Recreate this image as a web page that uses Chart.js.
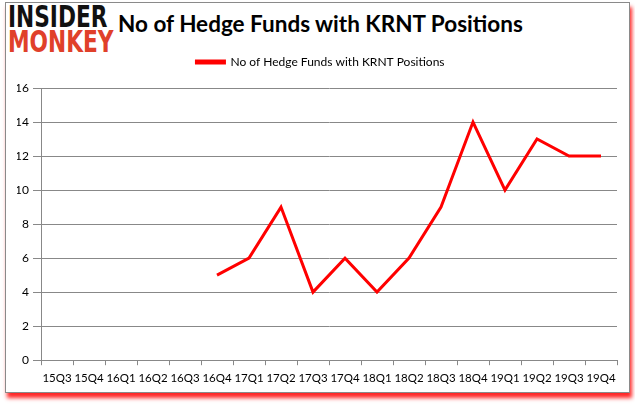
<!DOCTYPE html>
<html><head><meta charset="utf-8">
<script src="https://cdn.jsdelivr.net/npm/chart.js@4/dist/chart.umd.min.js"></script>
<style>
html,body{margin:0;padding:0;background:#fff;width:635px;height:405px;overflow:hidden;}
#frame{position:absolute;left:5px;top:2px;width:623px;height:389px;border:1px solid #8a8a8a;box-shadow:2px 5px 4px rgba(255,0,0,0.85);background:#fff;}
#logo{position:absolute;left:8px;top:4px;font-family:"DejaVu Sans";font-weight:bold;font-size:31px;line-height:25px;}
#logo div{transform-origin:0 0;white-space:nowrap;}
#l1{color:#111;transform:scaleX(0.7);}
#l2{color:#e0402a;transform:scaleX(0.7);}
#title{position:absolute;left:118px;top:10px;font-family:Lato,"Open Sans",sans-serif;font-weight:bold;font-size:22.5px;color:#000;white-space:nowrap;}
canvas{position:absolute;left:0;top:0;}
</style></head>
<body>
<div id="frame"></div>
<div id="logo"><div id="l1">INSIDER</div><div id="l2">MONKEY</div></div>
<div id="title">No of Hedge Funds with KRNT Positions</div>
<canvas id="c" width="635" height="405"></canvas>
<script>
const categories = ["15Q3","15Q4","16Q1","16Q2","16Q3","16Q4","17Q1","17Q2","17Q3","17Q4","18Q1","18Q2","18Q3","18Q4","19Q1","19Q2","19Q3","19Q4"];
const fundCounts = [null,null,null,null,null,5,6,9,4,6,4,6,9,14,10,13,12,12];
const yTicks = [0,2,4,6,8,10,12,14,16];
const seriesName = "No of Hedge Funds with KRNT Positions";

const legendMargin = {
  id: 'legendMargin',
  beforeInit(chart) {
    const orig = chart.legend.fit;
    chart.legend.fit = function () { orig.bind(chart.legend)(); this.height += 10; };
  }
};

new Chart(document.getElementById('c'), {
  type: 'line',
  data: {
    labels: categories,
    datasets: [{
      label: seriesName,
      data: fundCounts,
      borderColor: '#ff0000',
      backgroundColor: '#ff0000',
      borderWidth: 3,
      pointRadius: 0,
      tension: 0,
      spanGaps: false
    }]
  },
  plugins: [legendMargin],
  options: {
    responsive: false,
    animation: false,
    layout: { padding: { left: 17, right: 11, top: 44, bottom: 14 } },
    plugins: {
      legend: {
        display: true,
        labels: {
          boxWidth: 28, boxHeight: 2,
          color: '#000',
          font: { family: 'Lato, "Open Sans", sans-serif', size: 12 },
          padding: 12
        }
      },
      tooltip: { enabled: false }
    },
    scales: {
      x: {
        offset: true,
        grid: { display: true, drawOnChartArea: false, drawTicks: true, tickLength: 5, offset: true, color: '#888' },
        border: { display: true, color: '#888' },
        ticks: { color: '#000', font: { family: 'Lato, sans-serif', size: 11.5 }, maxRotation: 0, autoSkip: false, padding: 6 }
      },
      y: {
        min: 0, max: 16,
        afterBuildTicks: (s) => { s.ticks = yTicks.map(v => ({ value: v })); },
        afterFit: (s) => { s.width = 24; },
        grid: { color: '#888', tickLength: 8, drawTicks: true },
        border: { display: true, color: '#888' },
        ticks: { color: '#000', font: { family: 'Lato, sans-serif', size: 12 }, padding: 4 }
      },
      y2: {
        position: 'right',
        min: 0, max: 16,
        afterFit: (s) => { s.width = 7; },
        grid: { display: false },
        border: { display: false },
        ticks: { display: false }
      }
    }
  }
});
</script>
</body></html>
